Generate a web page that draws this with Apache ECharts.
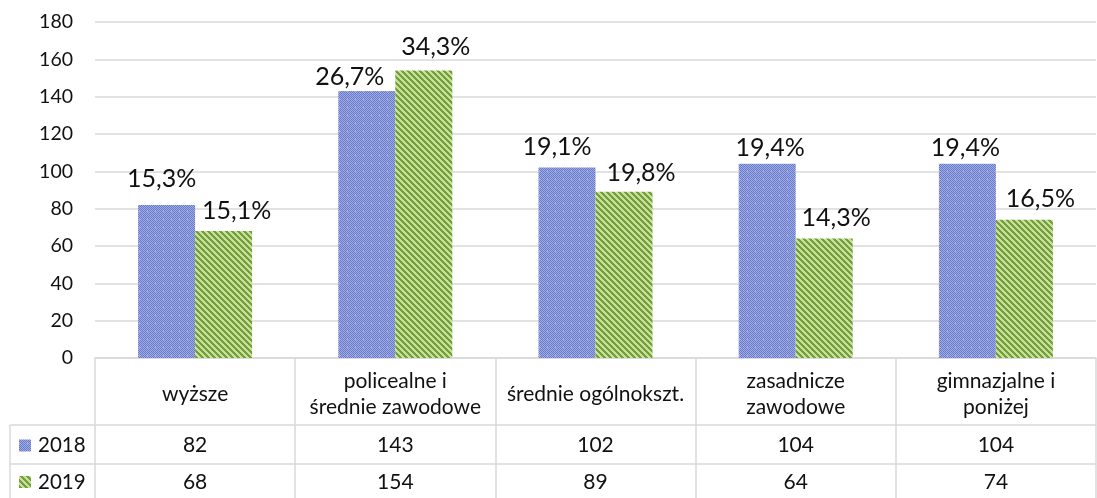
<!DOCTYPE html>
<html>
<head>
<meta charset="utf-8"/>
<title></title>
<script src="https://cdn.jsdelivr.net/npm/echarts@6/dist/echarts.min.js"></script>
<style>
  html, body { margin: 0; padding: 0; background: #fff; }
</style>
</head>
<body>
<div id="chart" style="width:1097px;height:498px;"></div>
<script type="text/javascript">

var categories = ['wyższe', 'policealne i\nśrednie zawodowe', 'średnie ogólnokszt.', 'zasadnicze\nzawodowe', 'gimnazjalne i\nponiżej'];
var seriesNames = ['2018', '2019'];
var values2018 = [82, 143, 102, 104, 104];
var values2019 = [68, 154, 89, 64, 74];
var pct2018 = ['15,3%', '26,7%', '19,1%', '19,4%', '19,4%'];
var pct2019 = ['15,1%', '34,3%', '19,8%', '14,3%', '16,5%'];

// labels were nudged by hand in the original, [dx, dy] per bar
var nudge2018 = [[-5, -6], [-17, 5], [-10, -1], [3, 4], [-2, 4]];
var nudge2019 = [[13, -1], [12, -4], [17, 1], [12, -1], [16, -1]];

var FONT = 'Lato';
var GRID_LEFT = 95, GRID_TOP = 22, GRID_BOTTOM = 140, GRID_RIGHT = 1;
var ROW1 = 425, ROW2 = 464, TABLE_LEFT = 10;
var LINE = '#d9d9d9';
var INK = '#111';

// blue checkered tile with little lavender crosses
function bluePattern() {
    var c = document.createElement('canvas');
    c.width = 8; c.height = 8;
    var g = c.getContext('2d');
    for (var y = 0; y < 8; y++) {
        for (var x = 0; x < 8; x++) {
            g.fillStyle = ((x + y) % 2 === 0) ? '#5f7ed0' : '#a6aadf';
            g.fillRect(x, y, 1, 1);
        }
    }
    g.fillStyle = '#bba2d8';
    g.fillRect(3, 2, 1, 3);
    g.fillRect(2, 3, 3, 1);
    return c;
}

// green diagonal stripes
function greenPattern() {
    var c = document.createElement('canvas');
    c.width = 6; c.height = 6;
    var g = c.getContext('2d');
    for (var y = 0; y < 6; y++) {
        for (var x = 0; x < 6; x++) {
            g.fillStyle = (((x - y) % 6 + 6) % 6 < 3) ? '#74a03a' : '#c8df9e';
            g.fillRect(x, y, 1, 1);
        }
    }
    return c;
}

var blueFill = { image: bluePattern(), repeat: 'repeat' };
var greenFill = { image: greenPattern(), repeat: 'repeat' };

function barData(values, pcts, nudges) {
    return values.map(function (v, i) {
        return {
            value: v,
            label: { formatter: pcts[i], offset: nudges[i] }
        };
    });
}

var chart = echarts.init(document.getElementById('chart'), null, { renderer: 'canvas' });

var labelStyle = {
    show: true, position: 'top', distance: 7,
    fontFamily: FONT, fontSize: 25, color: INK
};

var option = {
    animation: false,
    textStyle: { fontFamily: FONT },
    grid: { left: GRID_LEFT, right: GRID_RIGHT, top: GRID_TOP, bottom: GRID_BOTTOM, containLabel: false },
    xAxis: {
        type: 'category',
        data: categories,
        axisLine: { lineStyle: { color: LINE, width: 1.5 } },
        axisTick: { show: true, length: 140, lineStyle: { color: LINE, width: 1.5 } },
        axisLabel: {
            fontFamily: FONT, fontSize: 21, color: INK,
            margin: 36, verticalAlign: 'middle', lineHeight: 26, interval: 0
        }
    },
    yAxis: {
        type: 'value',
        min: 0, max: 180, interval: 20,
        axisLine: { show: false },
        axisTick: { show: false },
        axisLabel: { fontFamily: FONT, fontSize: 19.5, color: INK, margin: 22 },
        splitLine: { lineStyle: { color: LINE, width: 1.5 } }
    },
    series: [{
        name: seriesNames[0],
        type: 'bar',
        data: barData(values2018, pct2018, nudge2018),
        barWidth: 57,
        barGap: '0%',
        itemStyle: { color: blueFill },
        label: labelStyle
    }, {
        name: seriesNames[1],
        type: 'bar',
        data: barData(values2019, pct2019, nudge2019),
        barWidth: 57,
        barGap: '0%',
        itemStyle: { color: greenFill },
        label: labelStyle
    }]
};
chart.setOption(option);

// data table under the axis
var W = 1097, H = 498;
var right = W - GRID_RIGHT;
var els = [];
els.push({ type: 'line', shape: { x1: TABLE_LEFT, y1: ROW1, x2: right, y2: ROW1 }, style: { stroke: LINE, lineWidth: 1.5 } });
els.push({ type: 'line', shape: { x1: TABLE_LEFT, y1: ROW2, x2: right, y2: ROW2 }, style: { stroke: LINE, lineWidth: 1.5 } });
els.push({ type: 'line', shape: { x1: TABLE_LEFT, y1: ROW1, x2: TABLE_LEFT, y2: H }, style: { stroke: LINE, lineWidth: 1.5 } });

var rows = [values2018, values2019];
var fills = [blueFill, greenFill];
var rowMid = [(ROW1 + ROW2) / 2 + 1, (ROW2 + H) / 2 + 1];
for (var r = 0; r < rows.length; r++) {
    els.push({ type: 'rect', shape: { x: 19, y: rowMid[r] - 6, width: 12, height: 12 }, style: { fill: fills[r] } });
    els.push({ type: 'text', x: 38, y: rowMid[r], style: { text: seriesNames[r], font: '20.5px ' + FONT, fill: INK, verticalAlign: 'middle', align: 'left' } });
    for (var i = 0; i < categories.length; i++) {
        var cx = chart.convertToPixel({ xAxisIndex: 0 }, i);
        els.push({ type: 'text', x: cx, y: rowMid[r], style: { text: String(rows[r][i]), font: '21px ' + FONT, fill: INK, align: 'center', verticalAlign: 'middle' } });
    }
}
chart.setOption({ graphic: els });

</script>
</body>
</html>
